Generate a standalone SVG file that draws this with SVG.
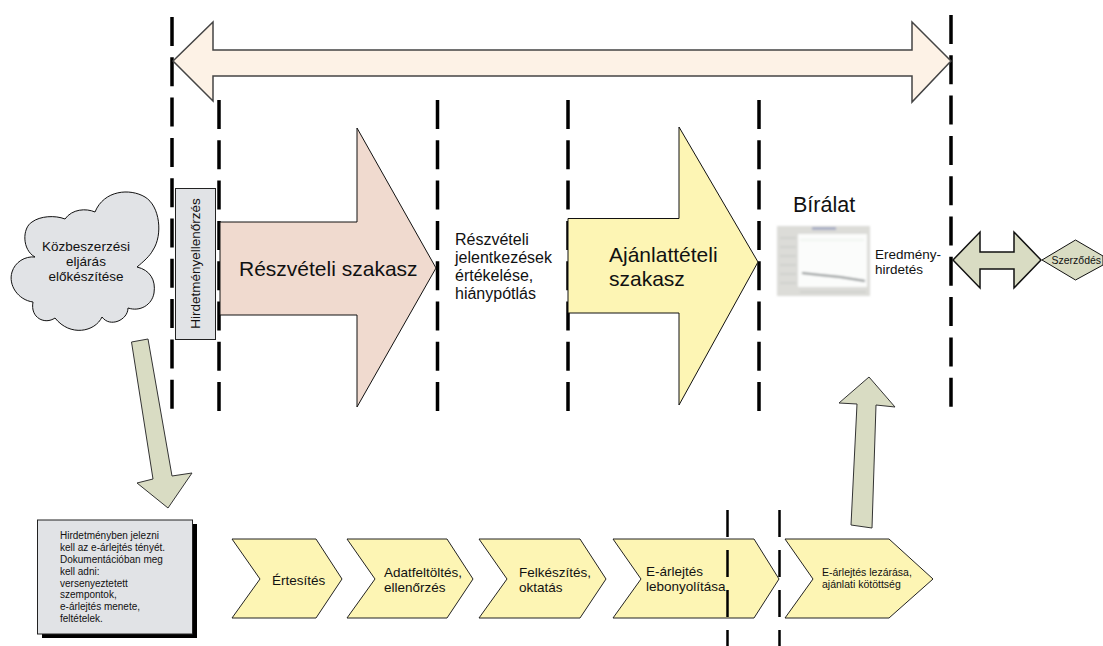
<svg xmlns="http://www.w3.org/2000/svg" width="1103" height="646" viewBox="0 0 1103 646">
<style>
text{font-family:"Liberation Sans",Arial,sans-serif;fill:#111}
.d{fill:none;stroke:#000;stroke-width:3.500;stroke-dasharray:29 11.3}
.d2{fill:none;stroke:#000;stroke-width:2.500;stroke-dasharray:27 13}
.s{stroke:#111;stroke-width:1}
.y{fill:#fdf5b4}
.g{fill:#d9dcc3}
.c{fill:#fdf5b4;stroke:#222;stroke-width:1}
.m{font-size:13.500px}
.b{font-size:21px}
</style>
<defs><filter id="soft" x="-5%" y="-5%" width="110%" height="110%"><feGaussianBlur stdDeviation="0.900"/></filter></defs>
<rect width="1103" height="646" fill="#fff"/>
<g id="connectors">
<path class="d" d="M172 17V410"/>
<path class="d" d="M219 100V411"/>
<path class="d" d="M437.500 100V411"/>
<path class="d" d="M568 100V411"/>
<path class="d" d="M759 100V411"/>
<path class="d" d="M951 15V410"/>
</g>
<g id="span-arrow"><path d="M173 61L213 22V50H912V22L951 61L912 102V76H213V101Z" fill="#fdf2e6" stroke="#444" stroke-width="1.500"/></g>
<g id="cloud"><path d="M35 257C22 250 22 228 32 222C40 216 55 215 65 219C72 209 86 208 95 212C104 190 130 188 145 197C160 206 163 235 153 250C150 256 143 262 137 267C150 270 156 280 154 293C152 305 140 312 128 308C128 320 110 328 102 317C95 332 70 337 55 318C45 325 30 318 33 302C18 300 8 285 12 272C15 262 25 256 35 257Z" fill="#e1e3e6" stroke="#111" stroke-width="1"/>
<text class="m" text-anchor="middle" x="86" y="251">Közbeszerzési</text><text class="m" text-anchor="middle" x="86" y="266">eljárás</text><text class="m" text-anchor="middle" x="86" y="281">előkészítése</text></g>
<g id="hirdetmeny"><rect x="175.500" y="188.500" width="40" height="151" fill="#e1e3e6" stroke="#222" stroke-width="1"/>
<text class="m" text-anchor="middle" transform="translate(199.500 263.500) rotate(-90)">Hirdetményellenőrzés</text></g>
<g id="reszveteli"><path d="M220 222H357V128L436 268L357 407V315H220Z" fill="#f0dacf" class="s"/><text class="b" x="239" y="276">Részvételi szakasz</text></g>
<g id="ertekeles"><text font-size="16" x="455" y="245">Részvételi</text><text font-size="16" x="455" y="263">jelentkezések</text><text font-size="16" x="455" y="281">értékelése,</text><text font-size="16" x="455" y="299">hiánypótlás</text></g>
<g id="ajanlattetel"><path d="M568 218.500H679V127L758 262L679 405V313H568Z" class="y s"/><text class="b" x="609" y="262">Ajánlattételi</text><text class="b" x="609" y="286">szakasz</text></g>
<g id="biralat"><text font-size="21.500" x="793" y="212">Bírálat</text>
<g filter="url(#soft)"><rect x="777" y="226" width="93" height="70" fill="#dcdcd8"/><rect x="798" y="234" width="69" height="53" fill="#fbfcfb"/><path d="M802 273L820 275L840 277L865 281" fill="none" stroke="#8a8f90" stroke-width="2"/><rect x="812" y="227" width="24" height="3" fill="#a9aec4"/><path d="M780 238H796M780 247H796M780 256H796M780 265H796M780 274H796M780 283H796M800 292H866" stroke="#c4c7c4" stroke-width="1"/><path d="M800 240H864" stroke="#e6ede6" stroke-width="1"/></g></g>
<g id="eredmeny"><text class="m" x="875" y="259">Eredmény-</text><text class="m" x="875" y="274">hirdetés</text></g>
<g id="green-double"><path d="M953 260L980 232V252H1014V232L1041 260L1014 288V269H980V288Z" class="g" stroke="#111" stroke-width="1.500"/></g>
<g id="szerzodes"><path d="M1042 260L1075.500 240L1103 256V265L1075.500 280Z" class="g" stroke="#111" stroke-width="1"/><text font-size="10.500" x="1051.500" y="264">Szerződés</text></g>
<g id="down-arrow"><path d="M131.500 342L148 339L172 476L192 473L168 508L137 483L153 479Z" class="g" stroke="#333" stroke-width="1"/></g>
<g id="up-arrow"><path d="M869 377L895 407L876 405L872 528L851 525L857 404L839 403Z" class="g" stroke="#333" stroke-width="1"/></g>
<g id="note"><rect x="42" y="524" width="155" height="114" fill="#000"/><rect x="37.500" y="520" width="155" height="114" fill="#e1e3e6" stroke="#222" stroke-width="1"/>
<text font-size="10" x="60" y="539">Hirdetményben jelezni</text><text font-size="10" x="60" y="551">kell az e-árlejtés tényét.</text><text font-size="10" x="60" y="563">Dokumentációban meg</text><text font-size="10" x="60" y="575">kell adni:</text><text font-size="10" x="60" y="587">versenyeztetett</text><text font-size="10" x="60" y="598">szempontok,</text><text font-size="10" x="60" y="610">e-árlejtés menete,</text><text font-size="10" x="60" y="622">feltételek.</text></g>
<g id="ertesites"><path class="c" d="M232 539H316L342 579L316 618H232L260 579Z"/><text class="m" x="272" y="585">Értesítés</text></g>
<g id="adatfeltoltes"><path class="c" d="M347 539H447L473 579L447 618H347L375 579Z"/><text class="m" x="384" y="577">Adatfeltöltés,</text><text class="m" x="384" y="592">ellenőrzés</text></g>
<g id="felkeszites"><path class="c" d="M479 539H580L606 579L580 618H479L507 579Z"/><text class="m" x="519" y="577">Felkészítés,</text><text class="m" x="519" y="592">oktatás</text></g>
<g id="lebonyolitas"><path class="c" d="M613 539H754L779 579L754 618H613L641 579Z"/><text class="m" x="646" y="576">E-árlejtés</text><text class="m" x="646" y="591">lebonyolítása</text></g>
<g id="lezaras"><path class="c" d="M785 539H889L933 579L889 618H785L813 579Z"/><text font-size="10.500" x="822" y="576">E-árlejtés lezárása,</text><text font-size="10.500" x="822" y="588">ajánlati kötöttség</text></g>
<g id="auction-dashes"><path class="d2" d="M727.500 510V646"/><path class="d2" d="M779.500 510V646"/></g>
</svg>
